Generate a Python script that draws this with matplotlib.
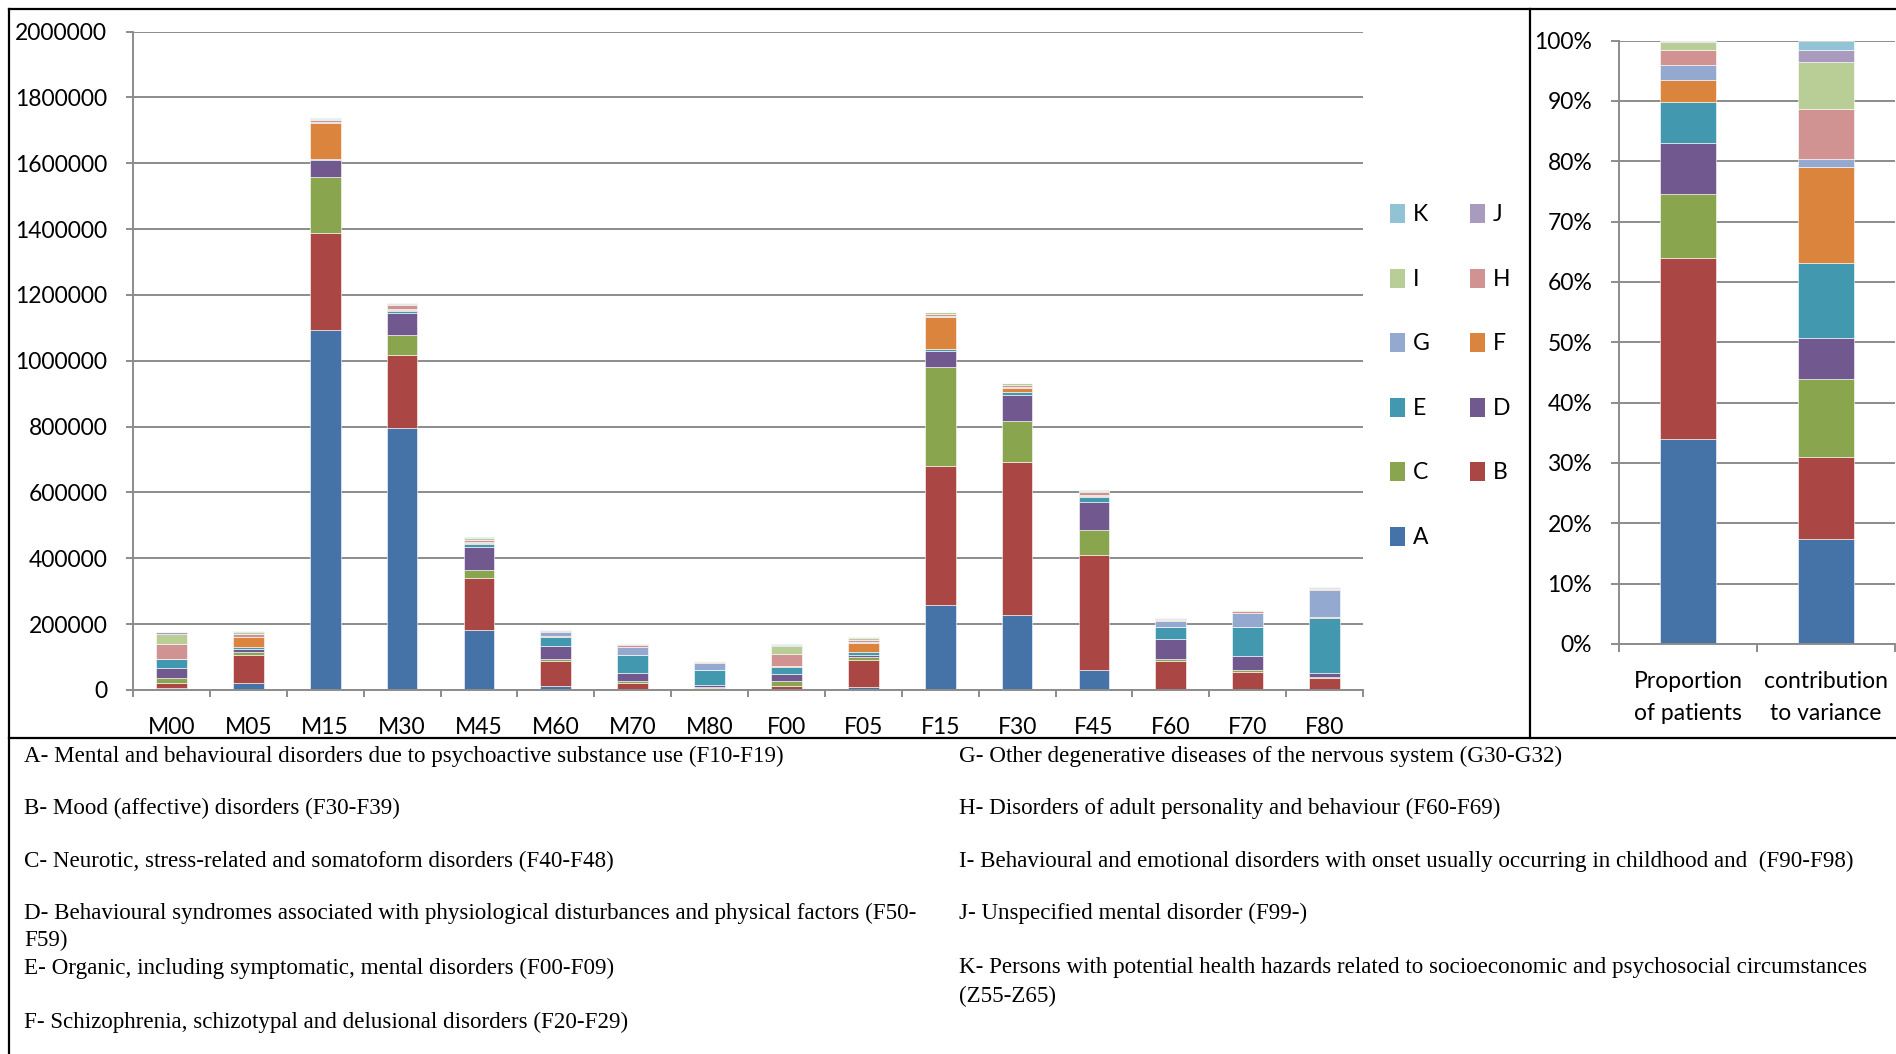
import numpy as np
import matplotlib
matplotlib.use("Agg")
import matplotlib.pyplot as plt
import matplotlib.transforms as mtrans
from matplotlib.lines import Line2D
from matplotlib.patches import Patch

plt.rcParams['font.family'] = ['Lato', 'DejaVu Sans']

cats = ['M00', 'M05', 'M15', 'M30', 'M45', 'M60', 'M70', 'M80',
        'F00', 'F05', 'F15', 'F30', 'F45', 'F60', 'F70', 'F80']
groups = ['A', 'B', 'C', 'D', 'E', 'F', 'G', 'H', 'I', 'J', 'K']

A = [5000, 21000, 1095000, 796000, 183500, 12000, 3000, 1000, 2000, 9000, 258000, 229000, 60000, 3000, 1000, 1000]
B = [15000, 84000, 293000, 220500, 156500, 77000, 19000, 6000, 11000, 81000, 423000, 465000, 351500, 84000, 52500, 34000]
C = [15000, 10000, 170000, 61500, 24000, 5000, 6000, 2000, 13000, 9000, 299700, 123000, 74500, 7000, 8000, 4000]
D = [31000, 10000, 51000, 66000, 69000, 41000, 22500, 5000, 23500, 8000, 50300, 80500, 86000, 59500, 42500, 11500]
E = [27000, 6000, 5000, 8500, 11000, 27000, 54500, 46000, 21500, 7000, 5600, 7200, 14000, 37500, 87000, 169500]
F = [1000, 29000, 109000, 3000, 2000, 1000, 1000, 500, 1000, 30000, 97400, 12900, 3000, 1000, 1000, 1000]
G = [1000, 1500, 3000, 2500, 3000, 12000, 26000, 23000, 1000, 2000, 2000, 3000, 4000, 18000, 43000, 84000]
H = [44000, 9500, 6000, 12000, 8000, 3000, 4000, 3000, 35000, 6500, 5000, 5500, 7000, 4000, 5000, 3000]
I = [31000, 6000, 3000, 4000, 5000, 2000, 2000, 1000, 26000, 6000, 6000, 5000, 5000, 2500, 3000, 3000]
J = [5000, 2500, 1000, 1500, 1000, 1500, 1000, 500, 4000, 2000, 1000, 1500, 1000, 1000, 1000, 1000]
K = [500, 500, 500, 500, 500, 500, 500, 300, 500, 500, 500, 500, 500, 500, 500, 500]
series = [A, B, C, D, E, F, G, H, I, J, K]

# right panel: share (%) of each group
prop_patients = [34.0, 30.0, 10.6, 8.4, 6.8, 3.6, 2.6, 2.4, 1.4, 0.15, 0.05]
contrib_variance = [17.4, 13.6, 12.9, 6.8, 12.5, 15.8, 1.3, 8.4, 7.8, 1.9, 1.6]
right_cats = [('Proportion', 'of patients'), ('contribution', 'to variance')]

colors = ['#4572A7', '#AA4643', '#89A54E', '#71588F', '#4198AF', '#DB843D',
          '#93A9CF', '#D19392', '#B9CD96', '#A99BBD', '#92C3D4']

notes_left = [
    'A- Mental and behavioural disorders due to psychoactive substance use (F10-F19)',
    'B- Mood (affective) disorders (F30-F39)',
    'C- Neurotic, stress-related and somatoform disorders (F40-F48)',
    'D- Behavioural syndromes associated with physiological disturbances and physical factors (F50-',
    'F59)',
    'E- Organic, including symptomatic, mental disorders (F00-F09)',
    'F- Schizophrenia, schizotypal and delusional disorders (F20-F29)',
]
notes_right = [
    'G- Other degenerative diseases of the nervous system (G30-G32)',
    'H- Disorders of adult personality and behaviour (F60-F69)',
    'I- Behavioural and emotional disorders with onset usually occurring in childhood and  (F90-F98)',
    'J- Unspecified mental disorder (F99-)',
    'K- Persons with potential health hazards related to socioeconomic and psychosocial circumstances',
    '(Z55-Z65)',
]

W, H_ = 1896, 1054
fig = plt.figure(figsize=(W / 100, H_ / 100), dpi=100)
grid_c = '#8c8c8c'
fs = 16.5


def px_axes(x0, y_top, x1, y_bot):
    return fig.add_axes([x0 / W, 1 - y_bot / H_, (x1 - x0) / W, (y_bot - y_top) / H_])


def style_axes(ax, n, tl):
    for s in ['top', 'right']:
        ax.spines[s].set_visible(False)
    for s in ['left', 'bottom']:
        ax.spines[s].set_color(grid_c)
        ax.spines[s].set_linewidth(1.4)
    ax.set_xlim(-0.5, n - 0.5)
    ax.set_xticks(np.arange(n + 1) - 0.5)
    ax.set_xticklabels([])
    ax.tick_params(axis='x', length=tl, width=1.4, color=grid_c, direction='out')
    ax.tick_params(axis='y', length=tl, width=1.4, color=grid_c, labelsize=fs, pad=13.5)
    ax.yaxis.grid(True, color=grid_c, linewidth=1.4)
    ax.set_axisbelow(True)


# left chart
ax = px_axes(133, 31.6, 1363, 690)
x = np.arange(len(cats))
bottom = np.zeros(len(cats))
for vals, col in zip(series, colors):
    ax.bar(x, vals, 0.4, bottom=bottom, color=col, edgecolor='white', linewidth=0.4)
    bottom += np.array(vals)
ax.set_ylim(0, 2000000)
ax.set_yticks(np.arange(0, 2000001, 200000))
ax.set_yticklabels([str(v) for v in range(0, 2000001, 200000)])
style_axes(ax, len(cats), 5)
trl = mtrans.blended_transform_factory(ax.transData, fig.transFigure)
for i, c in enumerate(cats):
    ax.text(i, 1 - 728 / H_, c, transform=trl, ha='center', va='center', fontsize=fs)

# legend, laid out K J / I H / ... / A
order = [10, 8, 6, 4, 2, 0, 9, 7, 5, 3, 1]
handles = [Patch(facecolor=colors[i]) for i in order]
labels = [groups[i] for i in order]
fig.legend(handles, labels, ncol=2, loc='upper left',
           bbox_to_anchor=(1390 / W, 1 - 204 / H_), frameon=False,
           fontsize=fs, handlelength=0.65, handleheight=0.9, handletextpad=0.35,
           labelspacing=1.88, columnspacing=1.75, borderpad=0, borderaxespad=0)

# right chart
ax2 = px_axes(1619, 40.6, 1895, 644)
xr = np.arange(2)
bottom = np.zeros(2)
for i, col in enumerate(colors):
    vals = np.array([prop_patients[i], contrib_variance[i]]) / 100
    ax2.bar(xr, vals, 0.41, bottom=bottom, color=col, edgecolor='white', linewidth=0.4)
    bottom += vals
ax2.set_ylim(0, 1)
ax2.set_yticks(np.linspace(0, 1, 11))
ax2.set_yticklabels(['%d%%' % v for v in range(0, 101, 10)])
style_axes(ax2, 2, 5.8)
trr = mtrans.blended_transform_factory(ax2.transData, fig.transFigure)
for i, (l1, l2) in enumerate(right_cats):
    ax2.text(i, 1 - 682 / H_, l1, transform=trr, ha='center', va='center', fontsize=fs)
    ax2.text(i, 1 - 714 / H_, l2, transform=trr, ha='center', va='center', fontsize=fs)

# frames
lw = 1.6
def fline(xs, ys):
    fig.add_artist(Line2D([v / W for v in xs], [1 - v / H_ for v in ys], color='black', lw=lw))

fline([9, 1896], [9, 9])
fline([9, 1896], [738, 738])
fline([9, 9], [9, 1054])
fline([1530, 1530], [9, 738])

# notes below the chart
left_y = [756, 808, 861, 913, 940, 968, 1022]
right_y = [756, 808, 861, 913, 968, 996]
for t, yy in zip(notes_left, left_y):
    fig.text(24 / W, 1 - yy / H_, t, family='Liberation Serif', fontsize=16.6, va='center', ha='left')
for t, yy in zip(notes_right, right_y):
    fig.text(959 / W, 1 - yy / H_, t, family='Liberation Serif', fontsize=16.6, va='center', ha='left')

fig.savefig('out.png', dpi=100)
